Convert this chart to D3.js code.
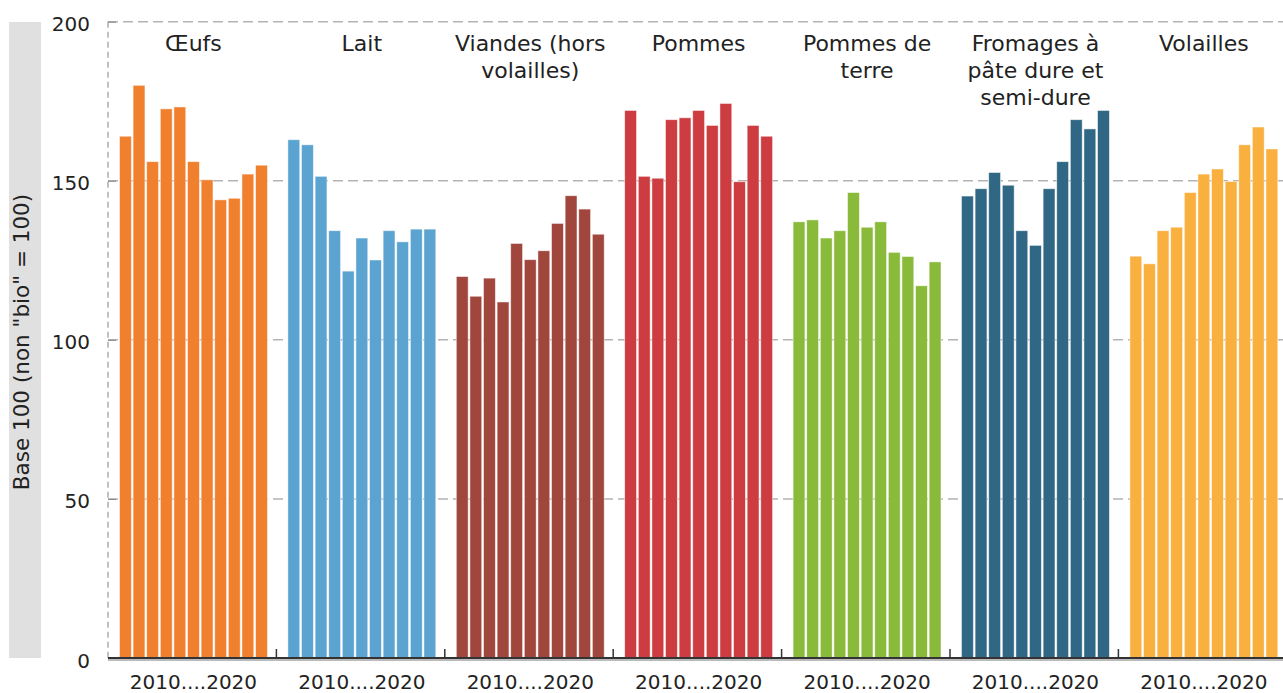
<!DOCTYPE html>
<html>
<head>
<meta charset="utf-8">
<script src="https://cdn.jsdelivr.net/npm/d3@7"></script>
<style>
  body { margin: 0; background: #fff; }
  svg { display: block; font-family: "DejaVu Sans", sans-serif; }
</style>
</head>
<body>
<svg id="chart" width="1283" height="693"></svg>
<script>
// catégories et titres (retour à la ligne comme dans la figure)
const categories = ["oeufs", "lait", "viandes", "pommes", "pdt", "fromages", "volailles"];
const titles = [
  ["Œufs"],
  ["Lait"],
  ["Viandes (hors", "volailles)"],
  ["Pommes"],
  ["Pommes de", "terre"],
  ["Fromages à", "pâte dure et", "semi-dure"],
  ["Volailles"]
];
const colors = ["#f07f2e", "#5ba3d0", "#a0463c", "#cc3c40", "#8aba3a", "#306785", "#f9b03f"];
const years = [2010, 2011, 2012, 2013, 2014, 2015, 2016, 2017, 2018, 2019, 2020];

// indices base 100 (non bio = 100)
const oeufs     = [164, 180, 156, 172.6, 173.2, 156, 150.3, 144, 144.5, 152.1, 154.9];
const lait      = [162.9, 161.3, 151.4, 134.3, 121.6, 132, 125.1, 134.3, 130.8, 134.8, 134.8];
const viandes   = [119.9, 113.7, 119.4, 111.9, 130.3, 125.2, 128, 136.6, 145.3, 141.1, 133.2];
const pommes    = [172.1, 151.4, 150.8, 169.2, 169.8, 172.1, 167.4, 174.3, 149.7, 167.4, 164];
const pdt       = [137.1, 137.7, 132, 134.3, 146.3, 135.4, 137.1, 127.5, 126.2, 117, 124.5];
const fromages  = [145.2, 147.5, 152.6, 148.6, 134.3, 129.7, 147.5, 156, 169.2, 166.3, 172.1];
const volailles = [126.3, 123.9, 134.3, 135.4, 146.3, 152.1, 153.7, 149.8, 161.3, 166.9, 160];
const series = [oeufs, lait, viandes, pommes, pdt, fromages, volailles];

const yTicks = [0, 50, 100, 150, 200];
const yLabel = 'Base 100 (non "bio" = 100)';
const xLabel = "2010....2020";

const svg = d3.select("#chart");
const plotLeft = 108, groupW = 168.4, plotTop = 21.7, plotBottom = 658;

const y = d3.scaleLinear().domain([0, 200]).range([plotBottom, plotTop]);
const xg = d3.scaleBand().domain(categories).range([plotLeft, plotLeft + groupW * categories.length]);
const xi = d3.scaleBand().domain(years).range([11.5, groupW - 9]).paddingInner(0.13);

// bandeau gris du titre de l'axe
svg.append("rect")
  .attr("x", 9).attr("y", 22).attr("width", 32).attr("height", plotBottom - 22)
  .attr("fill", "#e0e0e0");
svg.append("text")
  .attr("transform", `translate(28.5,${(22 + plotBottom) / 2 + 2}) rotate(-90)`)
  .attr("text-anchor", "middle")
  .attr("font-size", 21.5).attr("fill", "#222")
  .text(yLabel);

// grille
svg.append("g").selectAll("line")
  .data(yTicks.filter(d => d > 0))
  .join("line")
  .attr("x1", plotLeft).attr("x2", 1283)
  .attr("y1", d => y(d)).attr("y2", d => y(d))
  .attr("stroke", "#b3b3b3").attr("stroke-width", 1.5)
  .attr("stroke-dasharray", "10,5");

svg.append("line")
  .attr("x1", plotLeft).attr("x2", plotLeft).attr("y1", plotTop).attr("y2", plotBottom)
  .attr("stroke", "#999").attr("stroke-width", 1.2)
  .attr("stroke-dasharray", "6,4");

// axe y
const yAxis = svg.append("g")
  .attr("transform", `translate(${plotLeft},0)`)
  .call(d3.axisLeft(y).tickValues(yTicks).tickSizeInner(-8).tickSizeOuter(0).tickPadding(18));
yAxis.select(".domain").remove();
yAxis.selectAll(".tick line").attr("stroke", "#888");
yAxis.selectAll(".tick text")
  .attr("font-size", 20).attr("font-family", "DejaVu Sans, sans-serif")
  .attr("fill", "#222").attr("dy", "0.45em");

// barres
const groups = svg.append("g").selectAll("g")
  .data(categories)
  .join("g")
  .attr("transform", d => `translate(${xg(d)},0)`);

groups.each(function(cat, gi) {
  d3.select(this).selectAll("rect")
    .data(series[gi])
    .join("rect")
    .attr("x", (d, j) => xi(years[j]))
    .attr("width", xi.bandwidth())
    .attr("y", d => y(d))
    .attr("height", d => y(0) - y(d))
    .attr("fill", colors[gi])
    .attr("stroke", "#fff").attr("stroke-opacity", 0.6).attr("stroke-width", 0.8);

  const cx = (xi.range()[0] + xi.range()[1]) / 2;
  d3.select(this).append("text")
    .attr("text-anchor", "middle").attr("font-size", 22).attr("fill", "#222")
    .selectAll("tspan")
    .data(titles[gi])
    .join("tspan")
    .attr("x", cx)
    .attr("y", (d, k) => 51 + k * 27)
    .text(d => d);

  d3.select(this).append("text")
    .attr("x", cx).attr("y", 689)
    .attr("text-anchor", "middle").attr("font-size", 20).attr("fill", "#222")
    .text(xLabel);
});

// axe du bas
svg.append("line")
  .attr("x1", plotLeft).attr("x2", 1283).attr("y1", plotBottom + 2).attr("y2", plotBottom + 2)
  .attr("stroke", "#bbb").attr("stroke-width", 2);
svg.append("line")
  .attr("x1", plotLeft).attr("x2", 1283).attr("y1", plotBottom).attr("y2", plotBottom)
  .attr("stroke", "#333").attr("stroke-width", 2);
svg.append("g").selectAll("line")
  .data(categories.slice(1))
  .join("line")
  .attr("x1", d => xg(d)).attr("x2", d => xg(d))
  .attr("y1", plotBottom - 9).attr("y2", plotBottom)
  .attr("stroke", "#333").attr("stroke-width", 1.5);
</script>
</body>
</html>
